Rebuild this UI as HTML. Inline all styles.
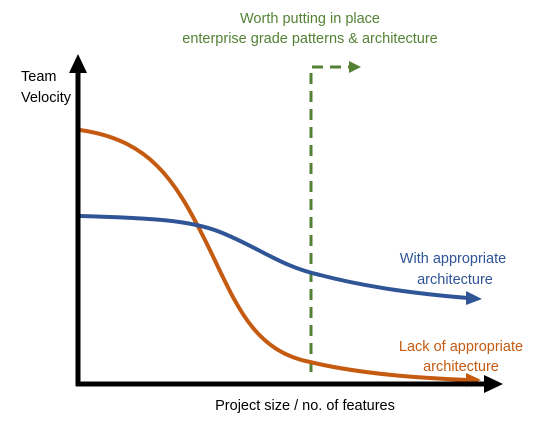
<!DOCTYPE html>
<html><head><style>
html,body{margin:0;padding:0;background:#fff;}
svg{display:block;}
text{font-family:"Liberation Sans",Arial,sans-serif;font-size:14.5px;}
</style></head><body>
<svg width="543" height="423" viewBox="0 0 543 423" xmlns="http://www.w3.org/2000/svg">
<text x="310" y="23" fill="#548235" text-anchor="middle">Worth putting in place</text>
<text x="310" y="43" fill="#548235" text-anchor="middle">enterprise grade patterns &amp; architecture</text>
<text x="21" y="81" fill="#000">Team</text>
<text x="21" y="102" fill="#000">Velocity</text>
<path d="M311,372 L311,67 L350,67" fill="none" stroke="#548235" stroke-width="3" stroke-dasharray="11,7"/>
<polygon points="349,61 361,67 349,73" fill="#548235"/>
<path d="M80,130 C150,140 175,180 205,240 C235,300 250,350 310,362 C360,374 420,378 468,380" fill="none" stroke="#C55A11" stroke-width="4"/>
<polygon points="466,373 481,380 466,387" fill="#C55A11"/>
<path d="M80,216 C150,218 190,220 220,232 C260,248 280,266 320,275 C370,288 420,294 468,298" fill="none" stroke="#2F5597" stroke-width="4"/>
<polygon points="466,291 482,299 466,305" fill="#2F5597"/>
<line x1="78" y1="386" x2="78" y2="68" stroke="#000" stroke-width="5"/>
<polygon points="69,73 78,54 87,73" fill="#000"/>
<line x1="76" y1="384" x2="488" y2="384" stroke="#000" stroke-width="5"/>
<polygon points="484,375 503,384 484,393" fill="#000"/>
<text x="453" y="263" fill="#2F5597" text-anchor="middle">With appropriate</text>
<text x="455" y="284" fill="#2F5597" text-anchor="middle">architecture</text>
<text x="461" y="351" fill="#C55A11" text-anchor="middle">Lack of appropriate</text>
<text x="461" y="371" fill="#C55A11" text-anchor="middle">architecture</text>
<text x="305" y="410" fill="#000" text-anchor="middle">Project size / no. of features</text>
</svg>
</body></html>
